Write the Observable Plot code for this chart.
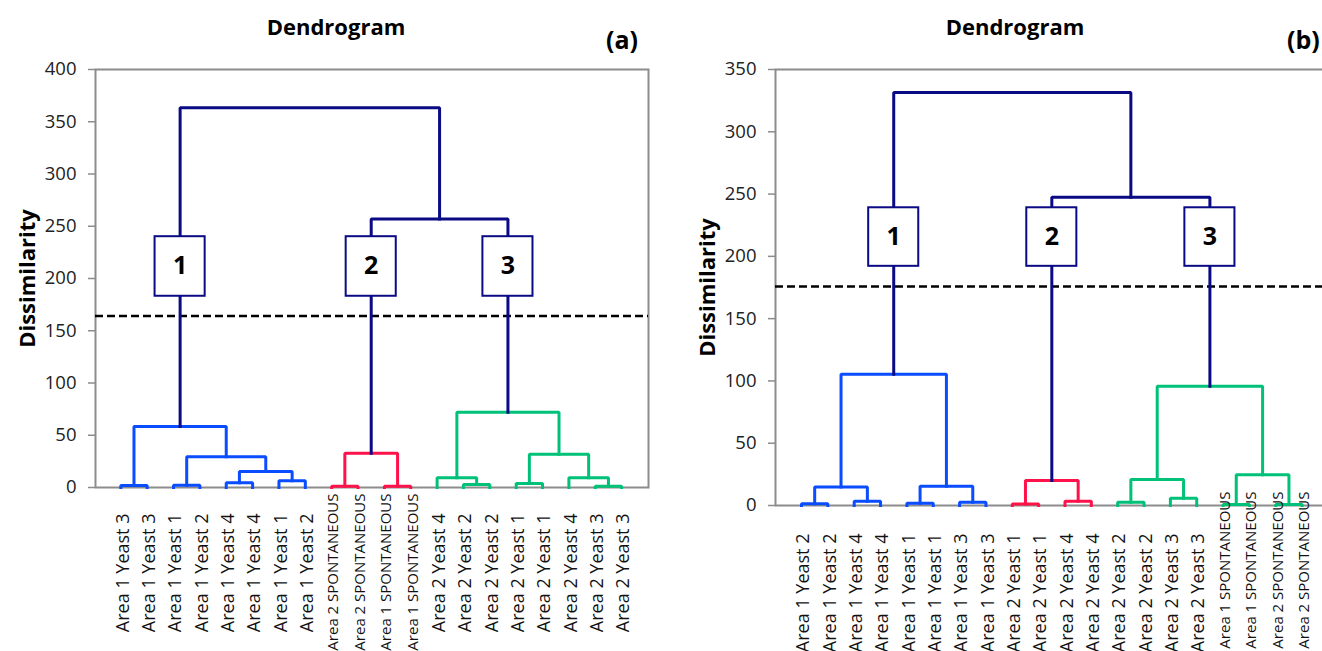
<!DOCTYPE html>
<html><head><meta charset="utf-8">
<script src="https://cdn.jsdelivr.net/npm/d3@7"></script>
<script src="https://cdn.jsdelivr.net/npm/@observablehq/plot@0.6"></script>
<style>
html,body{margin:0;padding:0;background:#fff;overflow:hidden;width:1322px;height:651px;}
#wrap{position:relative;width:1322px;height:651px;overflow:hidden;font-family:"Open Sans",sans-serif;}
.panel{position:absolute;top:0;height:651px;}
.panel svg{max-width:none !important;display:block;}
.title{position:absolute;font-weight:700;font-size:22px;line-height:1;transform:translateX(-50%);white-space:nowrap;color:#000;}
.tag{position:absolute;font-weight:700;font-size:25px;line-height:1;color:#000;white-space:nowrap;}
</style></head><body><div id="wrap"></div>
<script>
// ---------- data ----------
const titleText = "Dendrogram";
const yLabel = "Dissimilarity";
const clusterNames = ["1", "2", "3"];

const leavesA = [
  "Area 1 Yeast 3","Area 1 Yeast 3","Area 1 Yeast 1","Area 1 Yeast 2","Area 1 Yeast 4",
  "Area 1 Yeast 4","Area 1 Yeast 1","Area 1 Yeast 2","Area 2 SPONTANEOUS","Area 2 SPONTANEOUS",
  "Area 1 SPONTANEOUS","Area 1 SPONTANEOUS","Area 2 Yeast 4","Area 2 Yeast 2","Area 2 Yeast 2",
  "Area 2 Yeast 1","Area 2 Yeast 1","Area 2 Yeast 4","Area 2 Yeast 3","Area 2 Yeast 3"
];
// merges: [child a, child b, height, group]; child < 20 = leaf, child >= 20 = merge (20 + index)
const mergesA = [
  [0, 1, 1.9, "c1"], [2, 3, 2.2, "c1"], [4, 5, 4.5, "c1"], [6, 7, 6.4, "c1"],
  [22, 23, 15.4, "c1"], [21, 24, 29.5, "c1"], [20, 25, 58.3, "c1"],
  [8, 9, 1.3, "c2"], [10, 11, 1.3, "c2"], [27, 28, 32.7, "c2"],
  [13, 14, 2.9, "c3"], [12, 30, 9.3, "c3"], [15, 16, 3.8, "c3"], [18, 19, 1.3, "c3"],
  [17, 33, 9.3, "c3"], [32, 34, 31.7, "c3"], [31, 35, 72.1, "c3"],
  [29, 36, 257, "top"], [26, 37, 363.5, "top"]
];
const clusterRootsA = [26, 29, 36];
const boxRangeA = [183, 240];
const cutA = 164;
const yTicksA = [0, 50, 100, 150, 200, 250, 300, 350, 400];

const leavesB = [
  "Area 1 Yeast 2","Area 1 Yeast 2","Area 1 Yeast 4","Area 1 Yeast 4","Area 1 Yeast 1",
  "Area 1 Yeast 1","Area 1 Yeast 3","Area 1 Yeast 3","Area 2 Yeast 1","Area 2 Yeast 1",
  "Area 2 Yeast 4","Area 2 Yeast 4","Area 2 Yeast 2","Area 2 Yeast 2","Area 2 Yeast 3",
  "Area 2 Yeast 3","Area 1 SPONTANEOUS","Area 1 SPONTANEOUS","Area 2 SPONTANEOUS","Area 2 SPONTANEOUS"
];
const mergesB = [
  [0, 1, 1.4, "c1"], [2, 3, 3.5, "c1"], [4, 5, 1.9, "c1"], [6, 7, 2.7, "c1"],
  [20, 21, 14.9, "c1"], [22, 23, 15.4, "c1"], [24, 25, 105.3, "c1"],
  [8, 9, 1.2, "c2"], [10, 11, 3.5, "c2"], [27, 28, 20, "c2"],
  [12, 13, 2.7, "c3"], [14, 15, 5.9, "c3"], [30, 31, 20.8, "c3"],
  [16, 17, 0.8, "c3"], [18, 19, 0.8, "c3"], [33, 34, 24.6, "c3"], [32, 35, 95.7, "c3"],
  [29, 36, 247.5, "top"], [26, 37, 331.5, "top"]
];
const clusterRootsB = [26, 29, 36];
const boxRangeB = [192, 239];
const cutB = 175.8;
const yTicksB = [0, 50, 100, 150, 200, 250, 300, 350];

// ---------- styles ----------
const colors = {c1: "#0a4cff", c2: "#ff1249", c3: "#00c178", top: "#0a0a85"};
const axisGray = "#8c8c8c";

function layout(leaves, merges) {
  const pos = leaves.map((_, i) => ({x: i, h: 0}));
  merges.forEach(([a, b, h]) => pos.push({x: (pos[a].x + pos[b].x) / 2, h}));
  const pts = [];
  merges.forEach(([a, b, h, g], k) => {
    const A = pos[a], B = pos[b];
    pts.push({id: k, g, x: A.x, y: A.h}, {id: k, g, x: A.x, y: h},
             {id: k, g, x: B.x, y: h}, {id: k, g, x: B.x, y: B.h});
  });
  return {pos, pts};
}

function panel({leaves, merges, roots, boxRange, cut, ticks, yMax, width, mLeft, mRight, mTop, mBottom, xDomain, dyYeast, dySpont}) {
  const {pos, pts} = layout(leaves, merges);
  const leafData = leaves.map((t, i) => ({i, t}));
  const boxes = roots.map((r, k) => ({x: pos[r].x, name: clusterNames[k]}));
  const hw = 0.95;
  const marks = [
    Plot.frame({stroke: axisGray, strokeWidth: 2}),
    Plot.axisY({ticks, tickSize: 7, tickPadding: 12, fontSize: 18.5, stroke: axisGray, strokeWidth: 1.5, fill: "#222", label: null, tickFormat: d => String(d)}),
    Plot.ruleY([cut], {stroke: "#000", strokeWidth: 2.5, strokeDasharray: "8,4"}),
  ];
  for (const g of ["c1", "c2", "c3", "top"]) {
    marks.push(Plot.line(pts.filter(p => p.g === g), {x: "x", y: "y", z: "id", stroke: colors[g], strokeWidth: 3, strokeLinejoin: "miter", strokeLinecap: "square"}));
  }
  marks.push(
    Plot.rect(boxes, {x1: d => d.x - hw, x2: d => d.x + hw, y1: boxRange[0], y2: boxRange[1], fill: "#fff", stroke: colors.top, strokeWidth: 2}),
    Plot.text(boxes, {x: "x", y: (boxRange[0] + boxRange[1]) / 2, text: "name", fontSize: 25, fontWeight: "bold", fill: "#000"}),
    Plot.text(leafData.filter(d => !d.t.includes("SPONT")), {x: "i", frameAnchor: "bottom", text: "t", rotate: -90, textAnchor: "end", lineAnchor: "middle", dx: 2, dy: dyYeast, fontSize: 18, fill: "#111"}),
    Plot.text(leafData.filter(d => d.t.includes("SPONT")), {x: "i", frameAnchor: "bottom", text: "t", rotate: -90, textAnchor: "end", lineAnchor: "middle", dx: 2, dy: dySpont, fontSize: 15, fill: "#111"}),
    Plot.text([yLabel], {text: d => d, frameAnchor: "left", textAnchor: "middle", lineAnchor: "middle", dx: -68, rotate: -90, fontSize: 22, fontWeight: "bold", fill: "#000"})
  );
  return Plot.plot({
    width, height: 651,
    marginLeft: mLeft, marginRight: mRight, marginTop: mTop, marginBottom: mBottom,
    x: {domain: xDomain, axis: null},
    y: {domain: [0, yMax], axis: null},
    style: {fontFamily: "'Open Sans', sans-serif", background: "transparent", overflow: "visible", maxWidth: "none"},
    marks
  });
}

const wrap = document.getElementById("wrap");

const svgA = panel({leaves: leavesA, merges: mergesA, roots: clusterRootsA, boxRange: boxRangeA, cut: cutA,
  ticks: yTicksA, yMax: 400, width: 660, mLeft: 95, mRight: 12, mTop: 69, mBottom: 164,
  xDomain: [-0.96, 20.02], dyYeast: 26, dySpont: 6});
const divA = document.createElement("div"); divA.className = "panel";
divA.style.left = "0px"; divA.style.width = "660px";
divA.appendChild(svgA); wrap.appendChild(divA);

const svgB = panel({leaves: leavesB, merges: mergesB, roots: clusterRootsB, boxRange: boxRangeB, cut: cutB,
  ticks: yTicksB, yMax: 350, width: 670, mLeft: 113, mRight: 3.5, mTop: 69, mBottom: 146,
  xDomain: [-0.987, 20.02], dyYeast: 28, dySpont: -14});
const divB = document.createElement("div"); divB.className = "panel";
divB.style.left = "662px"; divB.style.width = "670px";
divB.appendChild(svgB); wrap.appendChild(divB);

function addText(cls, text, left, top) {
  const d = document.createElement("div"); d.className = cls; d.textContent = text;
  d.style.left = left + "px"; d.style.top = top + "px"; wrap.appendChild(d);
}
addText("title", titleText, 336, 15);
addText("title", titleText, 1015, 15);
addText("tag", "(a)", 606, 27);
addText("tag", "(b)", 1287, 27);
</script></body></html>
